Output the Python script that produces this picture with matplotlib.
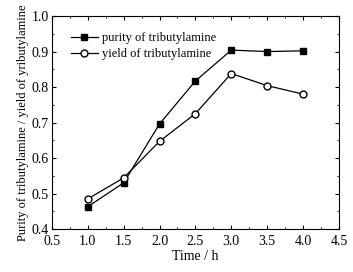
import matplotlib
matplotlib.use('Agg')
import matplotlib.pyplot as plt
from matplotlib.ticker import MultipleLocator

time_h = [1.0, 1.5, 2.0, 2.5, 3.0, 3.5, 4.0]
purity = [0.463, 0.530, 0.696, 0.817, 0.904, 0.900, 0.902]
yield_ = [0.485, 0.544, 0.647, 0.725, 0.838, 0.804, 0.780]

plt.rcParams['font.family'] = ['Liberation Serif', 'DejaVu Serif']
plt.rcParams['font.size'] = 10

fig = plt.figure(figsize=(3.53, 2.72), dpi=100)
ax = fig.add_axes([0.147, 0.158, 0.813, 0.783])

ax.plot(time_h, purity, '-s', color='black', lw=0.9, ms=4.5,
        mfc='black', label='purity of tributylamine')
ax.plot(time_h, yield_, '-o', color='black', lw=0.9, ms=5,
        mfc='white', label='yield of tributylamine')

ax.set_xlim(0.5, 4.5)
ax.set_ylim(0.4, 1.0)
ax.xaxis.set_major_locator(MultipleLocator(0.5))
ax.xaxis.set_minor_locator(MultipleLocator(0.25))
ax.yaxis.set_major_locator(MultipleLocator(0.1))
ax.yaxis.set_minor_locator(MultipleLocator(0.05))
ax.xaxis.set_major_formatter(plt.FormatStrFormatter('%.1f'))
ax.yaxis.set_major_formatter(plt.FormatStrFormatter('%.1f'))
ax.tick_params(which='both', direction='in', top=True, right=True, labelsize=10)
ax.tick_params(axis='x', pad=4)
ax.tick_params(axis='y', pad=2)
ax.tick_params(which='major', length=3)
ax.tick_params(which='minor', length=1.5)

ax.set_xlabel('Time / h', fontsize=10, labelpad=2)
ax.set_ylabel('Purity of tributylamine / yield of yributylamine', fontsize=9, labelpad=2)

ax.legend(loc='upper left', frameon=False, fontsize=9, handlelength=2.2,
          handletextpad=0.3, labelspacing=0.3, borderaxespad=0.4,
          bbox_to_anchor=(0.03, 0.97))

fig.savefig('out.png', dpi=100)
